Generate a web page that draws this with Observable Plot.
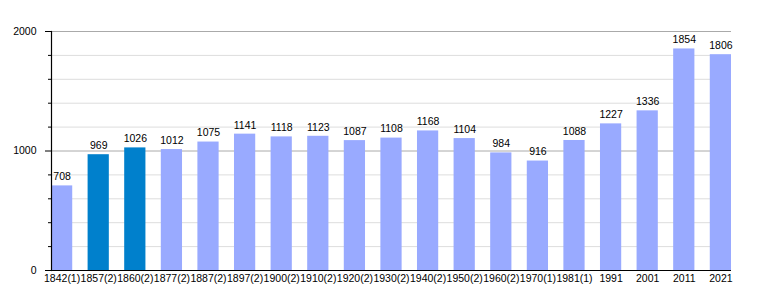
<!DOCTYPE html>
<html>
<head>
<meta charset="utf-8">
<script src="https://cdn.jsdelivr.net/npm/d3@7"></script>
<script src="https://cdn.jsdelivr.net/npm/@observablehq/plot@0.6"></script>
<style>
body { margin: 0; background: #fff; }
</style>
</head>
<body>
<div id="chart"></div>
<script>
const years = ["1842(1)","1857(2)","1860(2)","1877(2)","1887(2)","1897(2)","1900(2)","1910(2)","1920(2)","1930(2)","1940(2)","1950(2)","1960(2)","1970(1)","1981(1)","1991","2001","2011","2021"];
const population = [708,969,1026,1012,1075,1141,1118,1123,1087,1108,1168,1104,984,916,1088,1227,1336,1854,1806];
const highlighted = ["1857(2)","1860(2)"];
const majorTicks = [0,1000,2000];
const minorTicks = [200,400,600,800,1200,1400,1600,1800];

const data = years.map((y, i) => ({year: y, pop: population[i], dark: highlighted.includes(y)}));

const chart = Plot.plot({
  width: 760,
  height: 300,
  marginLeft: 51,
  marginRight: 29,
  marginTop: 31,
  marginBottom: 30,
  style: {fontFamily: "'Liberation Sans', Arial, sans-serif", fontSize: "10px", background: "#fff", color: "#000"},
  x: {domain: years, paddingInner: 0.42, paddingOuter: 0, round: false, label: null},
  y: {domain: [0, 2000], label: null},
  marks: [
    Plot.ruleY(minorTicks, {stroke: "#dddddd", strokeWidth: 1}),
    Plot.ruleY([1000, 2000], {stroke: "#aaaaaa", strokeWidth: 1}),
    Plot.barY(data, {x: "year", y: "pop", fill: d => d.dark ? "#0080cc" : "#99aaff"}),
    Plot.text(data, {x: "year", y: "pop", text: d => String(d.pop), dy: -9, fill: "#000", fontSize: 10.5}),
    Plot.ruleY([0], {stroke: "#000", strokeWidth: 1.2}),
    Plot.frame({anchor: "left", stroke: "#000", strokeWidth: 1.2}),
    Plot.axisY({ticks: majorTicks, tickSize: 6, tickPadding: 9, tickFormat: d => String(d), label: null, fontSize: 10.5}),
    Plot.axisY({ticks: minorTicks, tickSize: 3, tickFormat: () => "", label: null}),
    Plot.axisX({tickSize: 0, tickPadding: 4, label: null, fontSize: 10.5})
  ]
});
document.getElementById("chart").appendChild(chart);
</script>
</body>
</html>
